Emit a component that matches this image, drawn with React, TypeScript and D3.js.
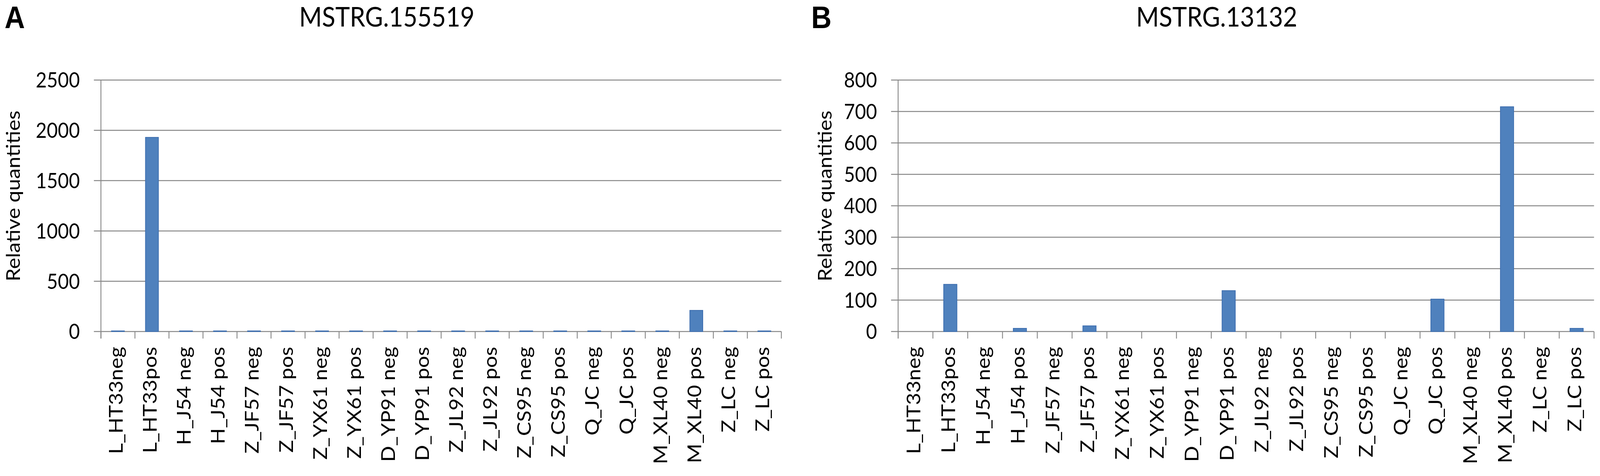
import React, { useEffect, useRef } from "react";
import * as d3 from "d3";

const categories = [
  "L_HT33neg",
  "L_HT33pos",
  "H_J54 neg",
  "H_J54 pos",
  "Z_JF57 neg",
  "Z_JF57 pos",
  "Z_YX61 neg",
  "Z_YX61 pos",
  "D_YP91 neg",
  "D_YP91 pos",
  "Z_JL92 neg",
  "Z_JL92 pos",
  "Z_CS95 neg",
  "Z_CS95 pos",
  "Q_JC neg",
  "Q_JC pos",
  "M_XL40 neg",
  "M_XL40 pos",
  "Z_LC neg",
  "Z_LC pos",
];

// MSTRG.155519
const valuesA = [6, 1930, 6, 6, 6, 6, 6, 6, 6, 6, 6, 6, 6, 6, 6, 6, 6, 210, 6, 6];
// MSTRG.13132
const valuesB = [0, 150, 0, 10, 0, 18, 0, 0, 0, 130, 0, 0, 0, 0, 0, 103, 0, 715, 0, 10];

const ticksA = [0, 500, 1000, 1500, 2000, 2500];
const ticksB = [0, 100, 200, 300, 400, 500, 600, 700, 800];

const titles = ["MSTRG.155519", "MSTRG.13132"];
const letters = ["A", "B"];
const yLabel = "Relative quantities";

const W = 4550;
const H = 1219;
const FONT = "Lato, 'Open Sans', sans-serif";
const GRID = "#878787";
const BAR = "#4F81BD";
const BAR_EDGE = "#3C6DAE";

type Panel = {
  values: number[];
  ticks: number[];
  title: string;
  letter: string;
  left: number;
  right: number;
  titleX: number;
  letterX: number;
  yLabelX: number;
};

export default function App() {
  const svgRef = useRef<SVGSVGElement | null>(null);

  useEffect(() => {
    document.body.style.margin = "0";
    document.body.style.overflow = "hidden";
    const svgEl = svgRef.current;
    if (!svgEl) return;
    const svg = d3.select(svgEl);
    svg.selectAll("*").remove();

    const top = 205;
    const bottom = 849;

    const panels: Panel[] = [
      {
        values: valuesA,
        ticks: ticksA,
        title: titles[0],
        letter: letters[0],
        left: 287,
        right: 2222,
        titleX: 1100,
        letterX: 13,
        yLabelX: 57,
      },
      {
        values: valuesB,
        ticks: ticksB,
        title: titles[1],
        letter: letters[1],
        left: 2554,
        right: 4533,
        titleX: 3460,
        letterX: 2307,
        yLabelX: 2365,
      },
    ];

    svg.append("rect").attr("width", W).attr("height", H).attr("fill", "#fff");

    panels.forEach((p) => {
      const g = svg.append("g");

      const x = d3
        .scaleBand<string>()
        .domain(categories)
        .range([p.left, p.right])
        .paddingInner(0.62)
        .paddingOuter(0.31);

      const y = d3
        .scaleLinear()
        .domain([0, d3.max(p.ticks) ?? 0])
        .range([bottom, top]);

      const step = (p.right - p.left) / categories.length;

      // gridlines + y ticks
      g.append("g")
        .selectAll("line")
        .data(p.ticks)
        .enter()
        .append("line")
        .attr("x1", p.left - 20)
        .attr("x2", p.right)
        .attr("y1", (d) => y(d))
        .attr("y2", (d) => y(d))
        .attr("stroke", GRID)
        .attr("stroke-width", 2.5);

      g.append("g")
        .selectAll("text")
        .data(p.ticks)
        .enter()
        .append("text")
        .attr("x", p.left - 60)
        .attr("y", (d) => y(d))
        .attr("dy", "0.36em")
        .attr("text-anchor", "end")
        .style("font", `54px ${FONT}`)
        .text((d) => String(d));

      // y axis line
      g.append("line")
        .attr("x1", p.left)
        .attr("x2", p.left)
        .attr("y1", top)
        .attr("y2", bottom + 18)
        .attr("stroke", GRID)
        .attr("stroke-width", 2.5);

      // x ticks at category boundaries
      g.append("g")
        .selectAll("line")
        .data(d3.range(categories.length + 1))
        .enter()
        .append("line")
        .attr("x1", (i) => p.left + i * step)
        .attr("x2", (i) => p.left + i * step)
        .attr("y1", bottom)
        .attr("y2", bottom + 18)
        .attr("stroke", GRID)
        .attr("stroke-width", 2.5);

      // bars
      g.append("g")
        .selectAll("rect")
        .data(p.values.map((v, i) => ({ c: categories[i], v })).filter((d) => d.v > 0))
        .enter()
        .append("rect")
        .attr("x", (d) => x(d.c)!)
        .attr("y", (d) => y(d.v))
        .attr("width", x.bandwidth())
        .attr("height", (d) => y(0) - y(d.v))
        .attr("fill", BAR)
        .attr("stroke", BAR_EDGE)
        .attr("stroke-width", 2);

      // category labels
      g.append("g")
        .selectAll("text")
        .data(categories)
        .enter()
        .append("text")
        .attr("transform", (c) => `translate(${x(c)! + x.bandwidth() / 2},888) rotate(-90)`)
        .attr("dy", "0.25em")
        .attr("text-anchor", "end")
        .style("font", `54px ${FONT}`)
        .text((c) => c);

      // axis title
      g.append("text")
        .attr("transform", `translate(${p.yLabelX},502) rotate(-90)`)
        .attr("text-anchor", "middle")
        .style("font", `54px ${FONT}`)
        .text(yLabel);

      // chart title
      g.append("text")
        .attr("x", p.titleX)
        .attr("y", 68)
        .attr("text-anchor", "middle")
        .style("font", `70px ${FONT}`)
        .text(p.title);

      // panel letter
      g.append("text")
        .attr("x", p.letterX)
        .attr("y", 72)
        .style("font", "bold 80px 'Liberation Sans', Arial, sans-serif")
        .text(p.letter);
    });

    return () => {
      svg.selectAll("*").remove();
    };
  }, []);

  return (
    <svg
      ref={svgRef}
      viewBox={`0 0 ${W} ${H}`}
      preserveAspectRatio="none"
      style={{ display: "block", width: "100vw", height: "100vh", background: "#fff" }}
    />
  );
}
